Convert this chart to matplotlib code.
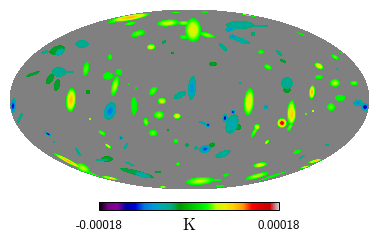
import numpy as np
import matplotlib
matplotlib.use("Agg")
import matplotlib.pyplot as plt
from matplotlib.patches import Ellipse

vmax = 0.00018
tick_labels = ["-0.00018", "0.00018"]
unit = r"$\mathrm{K}$"

# hot/cold spots, in picture pixels (y down), angle in degrees, peak in K/1e-5
spot_x = [130, 115, 130.5, 138, 176, 168, 184, 193, 207, 184, 151, 164, 172.5, 82, 57, 60, 45, 110, 86, 59, 68, 50, 57, 33, 108, 119, 115, 88, 71, 13, 20, 134, 136, 129, 153, 162, 192, 180, 110,
          240, 230, 260, 253, 240, 233, 223, 301, 248, 205, 261, 279, 283, 268, 213, 319, 335, 342, 337, 319, 335, 354, 340, 312, 287, 287, 249, 266, 291, 331, 313, 306, 365, 358, 240,
          90, 146, 159, 177, 153, 168, 102, 48, 121, 54, 108, 126, 176, 187, 78, 107, 102, 178, 130, 137, 143, 158, 68, 83, 93, 110, 163, 200, 215, 220, 226, 260, 257, 273, 297, 302, 315, 305, 327, 267, 255, 257,
          205, 212, 196, 223, 232, 225, 233, 238, 208, 203, 282, 292, 290]
spot_y = [17.5, 21, 23.5, 33.5, 12.5, 23, 37, 30, 35, 23, 47, 42, 53, 44, 50, 52, 52, 57, 69, 72, 72, 79, 85, 74, 76, 72, 86, 92, 100, 106, 118, 106, 88, 84, 91, 101, 88, 95, 111,
          25, 29, 26, 34, 40, 37, 47, 34, 15, 12, 52, 53, 61, 67, 64, 66, 57, 53, 69, 77, 83, 83, 98, 92, 83, 90, 102, 107, 112, 107, 111, 114, 107, 103, 83,
          119, 122, 115, 116, 133, 130, 133, 134, 138, 142, 146, 146, 141, 145, 152, 159, 160, 164, 164, 173, 175, 172, 161, 168, 175, 178, 187, 181, 180, 186, 175, 165, 176, 176, 152, 157, 161, 167, 145, 142, 131, 127,
          149, 145, 148, 154, 124, 118, 112, 127, 125, 123, 123, 115, 127]
spot_rx = [20, 7, 6, 7, 4, 11, 4, 8, 8, 6, 4.5, 2.5, 1.5, 7, 8, 5, 4, 2.5, 7, 7, 5, 6, 6, 7, 5, 3.5, 10, 2.5, 12, 8, 6, 9, 1.5, 1, 5, 4.5, 12, 7, 9,
           14, 5, 8, 2.5, 11, 4, 6, 4, 8, 4, 3, 4, 3, 4, 4, 5, 4, 2, 1.5, 4, 5, 4, 5, 7, 6, 4, 14, 2.5, 12, 4, 1.5, 1, 4, 5, 1.5,
           1.5, 4, 5, 4, 4, 1.5, 4, 4, 2, 1, 4, 3.5, 2.5, 2, 5, 6, 6, 2, 5, 18, 8, 3, 16, 8, 10, 9, 4, 14, 6, 5, 3, 7, 12, 15, 4, 3, 7, 5, 2, 3, 8, 3,
           6, 3, 2, 8, 10, 4, 2.5, 3, 2.5, 4, 5, 10, 5]
spot_ry = [3, 1.5, 1.5, 3, 1, 3.5, 2, 12, 2.5, 2.5, 3, 1.5, 1.5, 4, 4, 3, 1.5, 3, 3, 5, 1.5, 3, 3, 1.5, 4, 3, 3.5, 2.5, 5, 3, 1.5, 3, 1.5, 1, 3, 3.5, 4, 3, 6,
           4, 2.5, 1.5, 2.5, 2.5, 2.5, 2, 1, 1, 1, 2, 1.5, 1.5, 2.5, 2, 3, 2, 1, 1.5, 2, 4, 2.5, 3.5, 3, 6, 3, 5, 2.5, 4, 4, 1.5, 1, 4, 3, 1.5,
           1, 2.5, 4, 3, 3.5, 1.5, 2, 1.5, 2, 1, 1.5, 1.5, 2.5, 2, 1.5, 3, 1.5, 2, 1, 2.5, 2.5, 1.5, 2, 4, 2, 1.5, 1, 4, 1.5, 1, 1.5, 2.5, 2.5, 1, 2, 1, 1.5, 1, 1, 1.5, 2, 3,
           4, 2.5, 2, 3, 6, 2.5, 2.5, 3, 2.5, 1.5, 5, 4, 2]
spot_angle = [10, 15, 12, 15, 0, 5, 0, 0, -15, 0, 10, 30, 0, 0, 20, 30, 15, 0, 80, 0, 0, 60, 80, 20, 0, 0, 75, 0, 85, 85, 65, 90, 0, 0, 50, 0, 85, 25, 70,
              0, 10, 0, 0, -20, -10, -45, -20, -10, 0, 0, -45, -30, -25, 0, -30, -30, -20, 0, 0, 0, 0, 0, 85, 0, 0, 85, 0, 85, 0, 0, 0, 0, 0, 0,
              0, -75, 0, 0, 0, 0, -30, -35, 0, 0, -35, 60, 0, 0, -60, 0, 0, 0, -20, -15, -15, 0, -28, -30, -25, -12, 0, 5, 0, 0, 10, 10, 15, 18, 15, 30, 15, 15, 0, 45, 60, 0,
              15, 30, 0, 20, 70, 80, 45, 0, 0, -20, 0, 85, 60]
spot_peak = [10, 4, 4.5, 4.5, 4, 6, 4, 7, 5, 5, 7, -3, -2, -4.5, -2.5, -6, -4.5, 4, 4.5, -4.5, -4, -2.5, -2.5, -2.5, 3.5, 3.5, 5.5, -2.2, 9.5, -11, -4, 3.5, 3, 3, 4.5, 6.5, -8, -4.5, -9,
             -4.5, -8, -4, -3.5, -5.5, -8, -4, 3, 5.5, 3, 4, -4, -2.5, 4.5, -2.3, 7.5, 4.5, 3, -6, 4, 5.5, 4.5, 3.5, 10, -4.5, -2.3, 7.5, -8, 8, 4.5, 7, 6, -13, -8, -4,
             7, 5, 5, 7.5, 4.5, -2.2, 4.5, -12.5, -10, -4, 7, -6, 4, -3, -4, -2.5, -4, 4, -4, -2.8, -5.5, -2.5, 10, 5.5, 4, 7, 6.5, 5.5, 3.5, 3.5, 3.5, 7, 5.5, 3.5, 3.5, -4.5, 9, 7, -4.5, 7, 4.5, 7,
             -10, -2.5, -4.2, -5, -6, -12.5, -11, -2.5, -11, -7, 14.5, 9, 4.5]

edge_pos = 2.8
edge_neg = 3.3

fig = plt.figure(figsize=(3.79, 2.44), dpi=100)
ax = fig.add_axes([0, 0, 1, 1])
ax.set_xlim(0, 379)
ax.set_ylim(244, 0)
ax.axis("off")

# map outline
cx, cy, a, b = 189.5, 99.5, 179.5, 89.5
ax.add_patch(Ellipse((cx, cy), 2 * a, 2 * b, facecolor="#808080", edgecolor="none", antialiased=False, zorder=1))

# field on pixel grid, strongest spot wins at each pixel
xx, yy = np.meshgrid(np.arange(379) + 0.5, np.arange(244) + 0.5)
field = np.zeros(xx.shape)
shown = np.zeros(xx.shape, dtype=bool)
for x0, y0, rx, ry, ang, peak in zip(spot_x, spot_y, spot_rx, spot_ry, spot_angle, spot_peak):
    t = np.deg2rad(ang)
    dx, dy = xx - x0, yy - y0
    r2 = ((dx * np.cos(t) - dy * np.sin(t)) / rx) ** 2 + ((dx * np.sin(t) + dy * np.cos(t)) / ry) ** 2
    edge = edge_pos if peak > 0 else edge_neg
    edge = min(edge, abs(peak) * 0.85)
    val = peak * np.exp(-r2 * np.log(abs(peak) / edge))
    inside = r2 < 1
    stronger = inside & (np.abs(val) > np.abs(field))
    field[stronger] = val[stronger]
    shown |= inside

outside = ((xx - cx) / a) ** 2 + ((yy - cy) / b) ** 2 > 1
im = ax.imshow(np.ma.masked_where(outside | ~shown, field * 1e-5), cmap="nipy_spectral", vmin=-vmax, vmax=vmax,
               extent=(0, 379, 244, 0), interpolation="nearest", aspect="auto", zorder=2)

# colorbar
cax = fig.add_axes([99 / 379, 1 - 210 / 244, 180 / 379, 8 / 244])
cb = fig.colorbar(im, cax=cax, orientation="horizontal")
cb.set_ticks([-vmax, vmax])
cb.set_ticklabels(tick_labels, fontsize=9.4, family="cmss10")
cb.ax.tick_params(length=0, pad=7)
cb.outline.set_linewidth(0.7)
fig.text(189 / 379, 1 - 225 / 244, unit, fontsize=12, ha="center", va="center", math_fontfamily="cm")

fig.savefig("out.png", dpi=100)
